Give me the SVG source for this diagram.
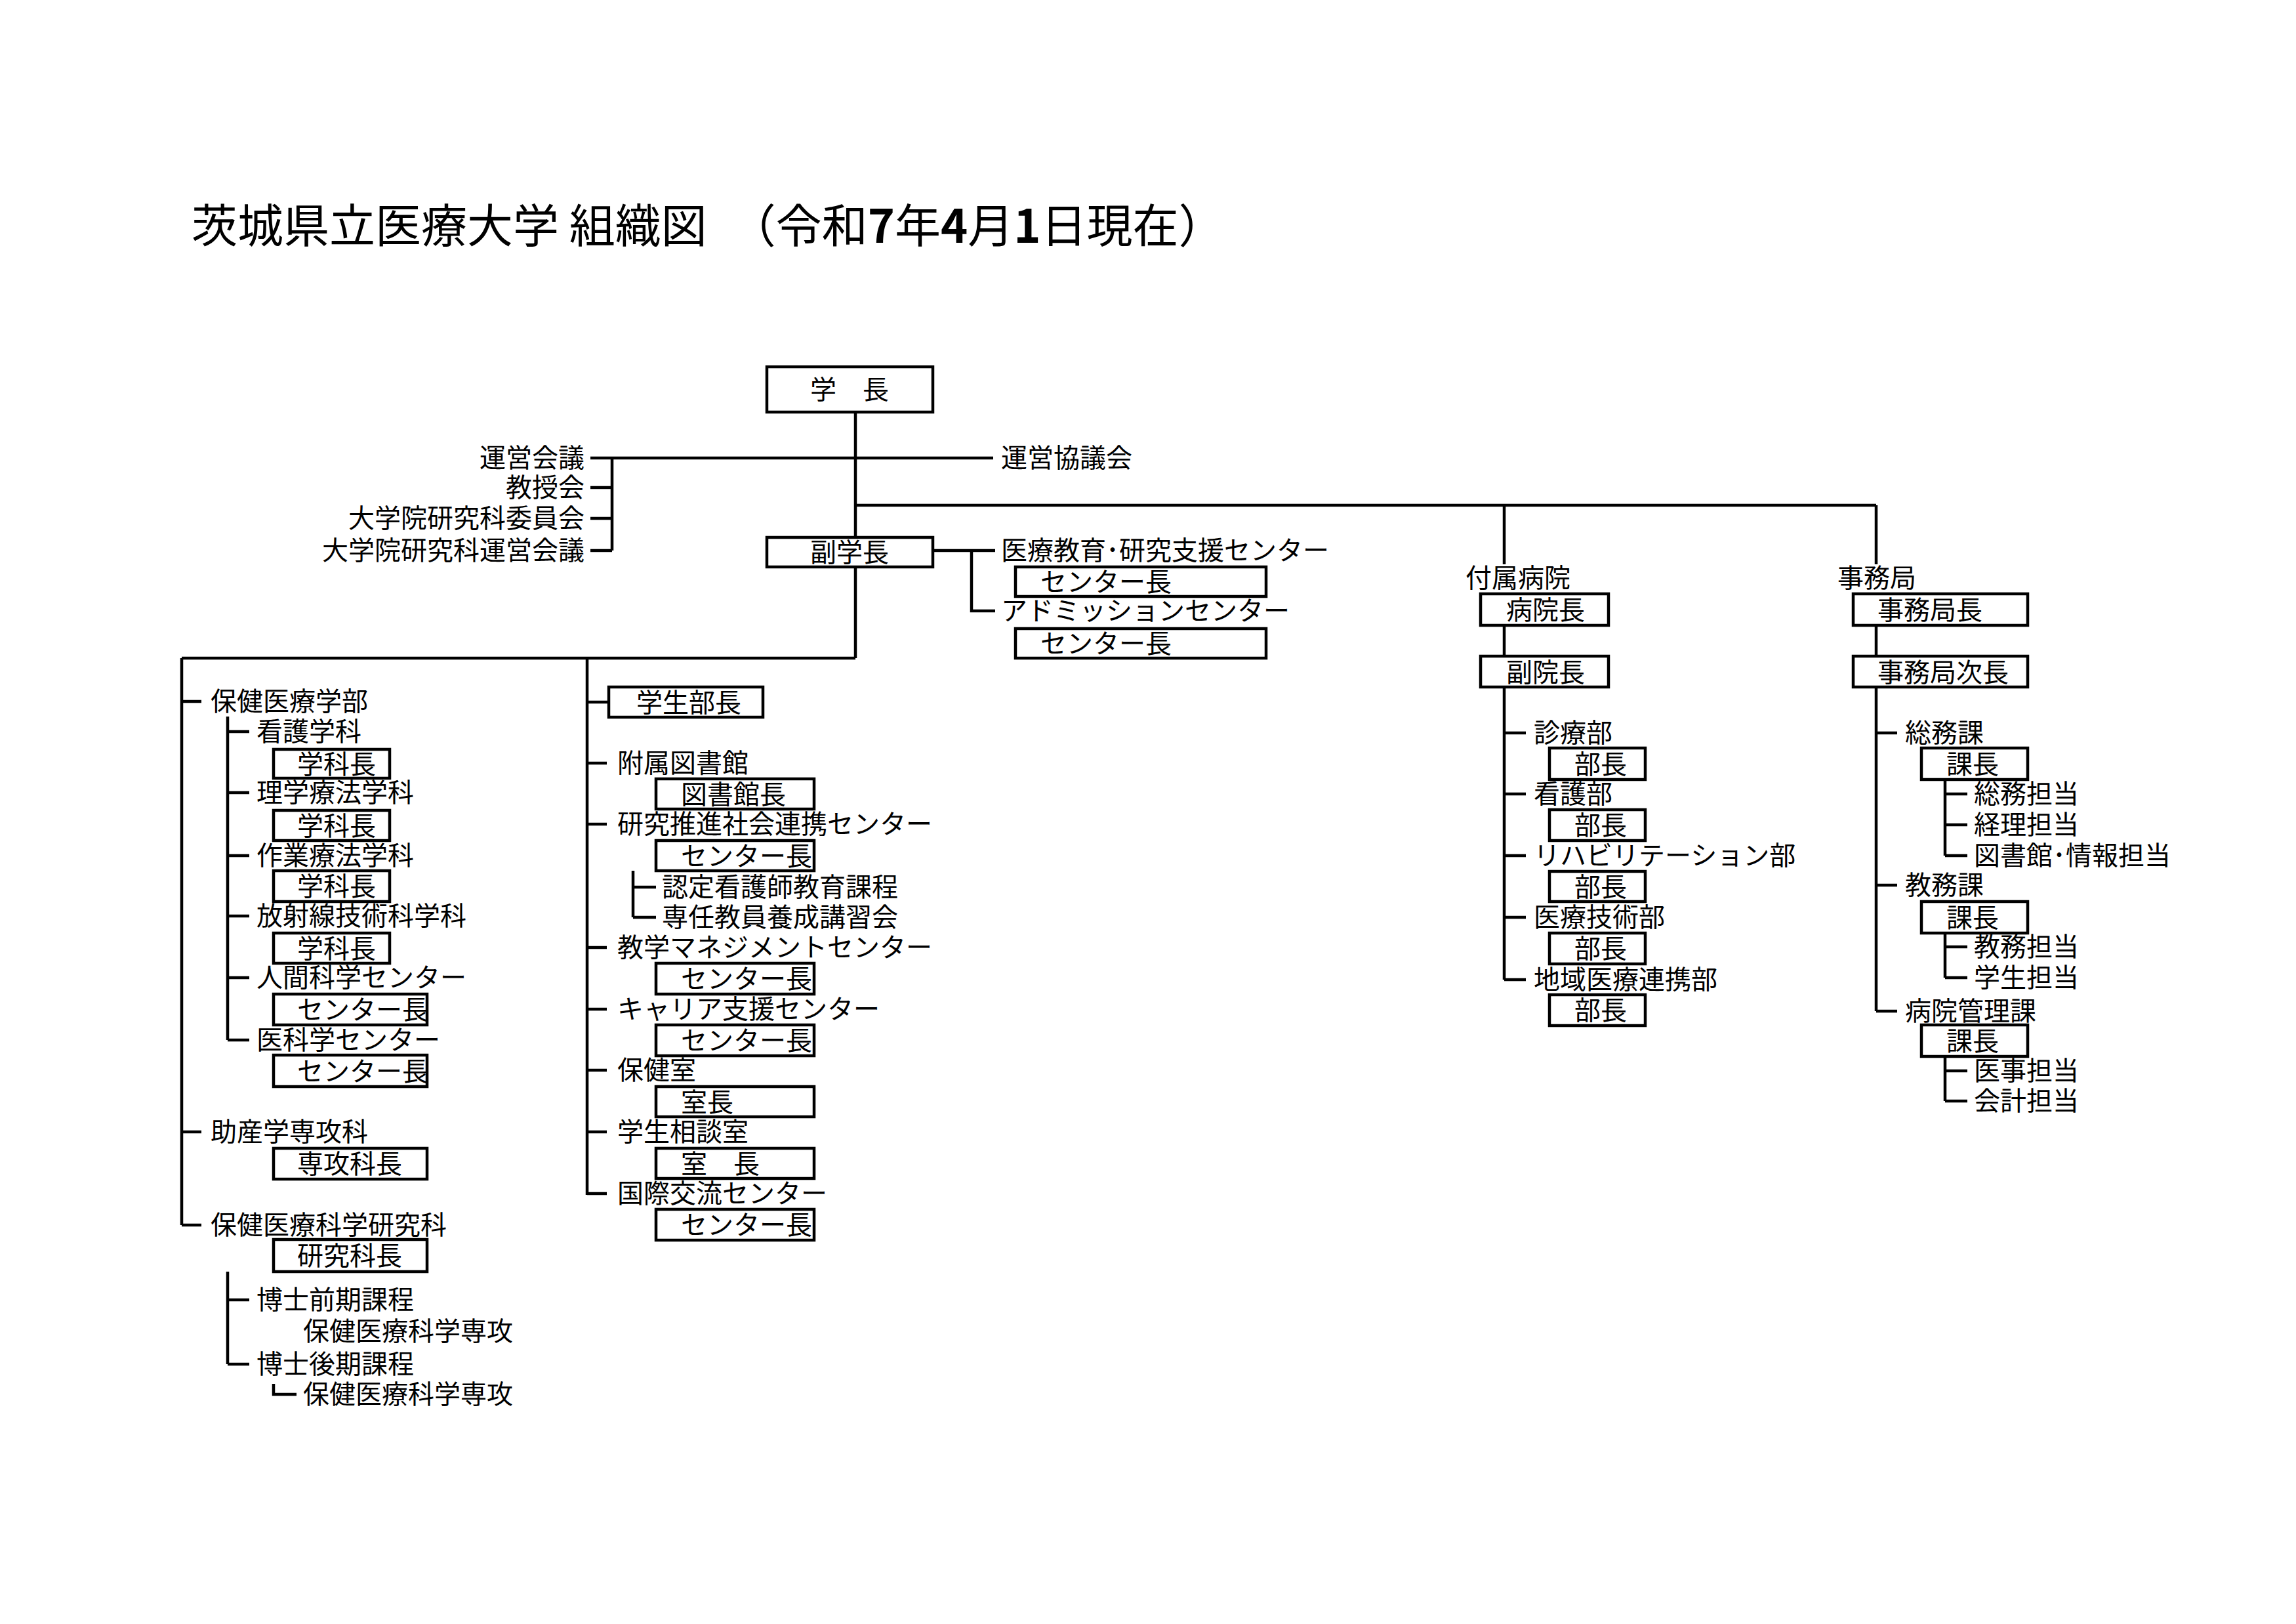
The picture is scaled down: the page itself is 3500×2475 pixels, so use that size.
<svg xmlns="http://www.w3.org/2000/svg" width="3500" height="2475" viewBox="0 0 3500 2475">
<style>
text{font-family:"Noto Sans CJK JP","Noto Sans CJK SC",sans-serif;font-size:40px;fill:#000}
.t{font-size:70px}
.r{text-anchor:end}
.c{text-anchor:middle}
rect{fill:#fff;stroke:#000;stroke-width:4.5}
#connectors path{fill:none;stroke:#000;stroke-width:4.5}
</style>
<rect x="0" y="0" width="3500" height="2475" style="stroke:none"/>
<text class="t" x="292" y="370">茨城県立医療大学 組織図　（令和<tspan font-weight="bold">7</tspan>年<tspan font-weight="bold">4</tspan>月<tspan font-weight="bold">1</tspan>日現在）</text>
<g id="connectors">
<path d="M1304 628V819M1304 864V1003M900 698H1514M933 698V839M900 743H933M900 790H933M900 839H933"/>
<path d="M1304 770H2860M2293 770V860M2860 770V860"/>
<path d="M1422 839H1517M1481 839V931H1517"/>
<path d="M277 1003H1304M277 1003V1867M277 1069H307M277 1725H307M277 1867H307"/>
<path d="M347 1092V1585M347 1115H380M347 1208H380M347 1304H380M347 1396H380M347 1490H380M347 1585H380"/>
<path d="M347 1938V2079M347 1981H380M347 2079H380M417 2109V2125H452"/>
<path d="M895 1003V1821M895 1070H928M895 1163H925M895 1256H925M895 1444H925M895 1538H925M895 1631H925M895 1725H925M895 1819H925"/>
<path d="M965 1327V1398M965 1352H1000M965 1398H1000"/>
<path d="M2293 953V1000M2293 1047V1493M2293 1117H2326M2293 1210H2326M2293 1304H2326M2293 1398H2326M2293 1493H2326"/>
<path d="M2860 953V1000M2860 1047V1541M2860 1117H2892M2860 1349H2892M2860 1541H2892"/>
<path d="M2965 1188V1304M2965 1210H2999M2965 1257H2999M2965 1304H2999M2965 1422V1490M2965 1443H2999M2965 1490H2999M2965 1610V1678M2965 1632H2999M2965 1678H2999"/>
</g>
<g id="president"><rect x="1169" y="559" width="253" height="69"/><text class="c" x="1295" y="608">学　長</text></g>
<g id="councils">
<text class="r" x="891" y="712">運営会議</text>
<text class="r" x="891" y="757">教授会</text>
<text class="r" x="891" y="804">大学院研究科委員会</text>
<text class="r" x="891" y="853">大学院研究科運営会議</text>
<text x="1526" y="712">運営協議会</text>
</g>
<g id="vice"><rect x="1169" y="819" width="253" height="45"/><text class="c" x="1295" y="856">副学長</text></g>
<g id="centers-top">
<text x="1526" y="853">医療教育･研究支援センター</text>
<rect x="1548" y="864" width="382" height="45"/><text x="1586" y="901">センター長</text>
<text x="1526" y="945">アドミッションセンター</text>
<rect x="1548" y="958" width="382" height="45"/><text x="1586" y="995">センター長</text>
</g>
<g id="faculty">
<text x="321" y="1083">保健医療学部</text>
<text x="391" y="1129">看護学科</text><rect x="417" y="1142" width="177" height="44"/><text x="453" y="1179">学科長</text>
<text x="391" y="1222">理学療法学科</text><rect x="417" y="1235" width="177" height="46"/><text x="453" y="1273">学科長</text>
<text x="391" y="1318">作業療法学科</text><rect x="417" y="1327" width="177" height="47"/><text x="453" y="1365">学科長</text>
<text x="391" y="1410">放射線技術科学科</text><rect x="417" y="1422" width="177" height="46"/><text x="453" y="1460">学科長</text>
<text x="391" y="1504">人間科学センター</text><rect x="417" y="1515" width="234" height="47"/><text x="453" y="1553">センター長</text>
<text x="391" y="1599">医科学センター</text><rect x="417" y="1608" width="234" height="48"/><text x="453" y="1647">センター長</text>
</g>
<g id="midwifery">
<text x="321" y="1739">助産学専攻科</text><rect x="417" y="1750" width="234" height="47"/><text x="453" y="1788">専攻科長</text>
</g>
<g id="graduate">
<text x="321" y="1881">保健医療科学研究科</text><rect x="417" y="1889" width="234" height="49"/><text x="453" y="1928">研究科長</text>
<text x="391" y="1995">博士前期課程</text><text x="462" y="2043">保健医療科学専攻</text>
<text x="391" y="2093">博士後期課程</text><text x="462" y="2139">保健医療科学専攻</text>
</g>
<g id="student-affairs">
<rect x="928" y="1047" width="235" height="46"/><text x="970" y="1085">学生部長</text>
<text x="941" y="1177">附属図書館</text><rect x="1000" y="1187" width="241" height="46"/><text x="1038" y="1225">図書館長</text>
<text x="941" y="1270">研究推進社会連携センター</text><rect x="1000" y="1281" width="241" height="46"/><text x="1038" y="1319">センター長</text>
<text x="1009" y="1366">認定看護師教育課程</text><text x="1009" y="1412">専任教員養成講習会</text>
<text x="941" y="1458">教学マネジメントセンター</text><rect x="1000" y="1468" width="241" height="47"/><text x="1038" y="1506">センター長</text>
<text x="941" y="1552">キャリア支援センター</text><rect x="1000" y="1562" width="241" height="47"/><text x="1038" y="1600">センター長</text>
<text x="941" y="1645">保健室</text><rect x="1000" y="1656" width="241" height="46"/><text x="1038" y="1694">室長</text>
<text x="941" y="1739">学生相談室</text><rect x="1000" y="1750" width="241" height="46"/><text x="1038" y="1788">室　長</text>
<text x="941" y="1833">国際交流センター</text><rect x="1000" y="1843" width="241" height="47"/><text x="1038" y="1881">センター長</text>
</g>
<g id="hospital">
<text x="2234" y="895">付属病院</text>
<rect x="2257" y="905" width="195" height="48"/><text x="2296" y="944">病院長</text>
<rect x="2257" y="1000" width="195" height="47"/><text x="2296" y="1039">副院長</text>
<text x="2338" y="1131">診療部</text><rect x="2362" y="1140" width="146" height="48"/><text x="2400" y="1179">部長</text>
<text x="2338" y="1224">看護部</text><rect x="2362" y="1234" width="146" height="47"/><text x="2400" y="1272">部長</text>
<text x="2338" y="1318">リハビリテーション部</text><rect x="2362" y="1328" width="146" height="46"/><text x="2400" y="1366">部長</text>
<text x="2338" y="1412">医療技術部</text><rect x="2362" y="1422" width="146" height="47"/><text x="2400" y="1460">部長</text>
<text x="2338" y="1507">地域医療連携部</text><rect x="2362" y="1516" width="146" height="47"/><text x="2400" y="1554">部長</text>
</g>
<g id="secretariat">
<text x="2801" y="895">事務局</text>
<rect x="2825" y="905" width="266" height="48"/><text x="2862" y="944">事務局長</text>
<rect x="2825" y="1000" width="266" height="47"/><text x="2862" y="1039">事務局次長</text>
<text x="2904" y="1131">総務課</text><rect x="2929" y="1140" width="162" height="48"/><text x="2967" y="1179">課長</text>
<text x="3009" y="1224">総務担当</text><text x="3009" y="1271">経理担当</text><text x="3009" y="1318">図書館･情報担当</text>
<text x="2904" y="1363">教務課</text><rect x="2929" y="1374" width="162" height="48"/><text x="2967" y="1413">課長</text>
<text x="3009" y="1457">教務担当</text><text x="3009" y="1504">学生担当</text>
<text x="2904" y="1555">病院管理課</text><rect x="2929" y="1562" width="162" height="48"/><text x="2967" y="1601">課長</text>
<text x="3009" y="1646">医事担当</text><text x="3009" y="1692">会計担当</text>
</g>
</svg>
